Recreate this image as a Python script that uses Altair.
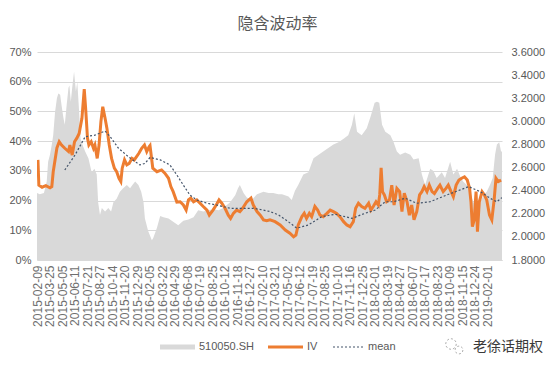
import json
import altair as alt
import pandas as pd

# x-axis category labels (one every 27 trading days)
dates = [
    "2015-02-09", "2015-03-25", "2015-05-05", "2015-06-11", "2015-07-21", "2015-08-27",
    "2015-10-14", "2015-11-20", "2015-12-29", "2016-02-05", "2016-03-22", "2016-04-29",
    "2016-06-08", "2016-07-19", "2016-08-25", "2016-10-12", "2016-11-18", "2016-12-27",
    "2017-02-10", "2017-03-21", "2017-05-02", "2017-06-12", "2017-07-19", "2017-08-25",
    "2017-10-10", "2017-11-16", "2017-12-25", "2018-02-01", "2018-03-19", "2018-04-27",
    "2018-06-07", "2018-07-17", "2018-08-23", "2018-10-09", "2018-11-15", "2018-12-24",
    "2019-02-01",
]
LABEL_STEP = 27
LAST_DAY = 1004

# IV (%), by trading-day index
iv_day = [2, 4, 11, 19, 28, 32, 35, 43, 48, 53, 60, 68, 71, 76, 81, 86, 91, 97, 102, 105,
          109, 112, 117, 122, 125, 130, 134, 138, 142, 147, 151, 156, 161, 167, 172, 177, 181, 184, 189, 194,
          199, 205, 210, 215, 220, 226, 232, 237, 242, 244, 250, 259, 269, 276, 284, 289, 294, 302, 309, 316,
          322, 327, 332, 338, 345, 352, 359, 367, 372, 380, 387, 393, 399, 406, 413, 418, 424, 431, 438, 444,
          453, 462, 467, 475, 482, 489, 496, 503, 514, 525, 536, 546, 554, 559, 564, 572, 577, 582, 588, 593,
          600, 606, 611, 618, 626, 633, 640, 647, 654, 662, 669, 676, 683, 688, 694, 701, 708, 716, 721, 726,
          732, 737, 740, 743, 746, 750, 755, 761, 766, 771, 777, 783, 788, 793, 799, 804, 809, 814, 820, 826,
          831, 836, 842, 847, 853, 858, 865, 870, 877, 883, 888, 894, 899, 905, 911, 917, 923, 929, 934, 937,
          940, 944, 948, 951, 955, 961, 966, 971, 977, 982, 987, 991, 996, 1002]
iv_val = [33.7, 25.2, 24.5, 25.0, 24.3, 24.7, 29.7, 37.7, 39.8, 38.7, 37.6, 36.5, 38.7, 35.3, 39.8, 41.0, 42.6, 47.7, 57.5, 51.0,
          41.0, 38.7, 39.8, 37.6, 38.7, 34.2, 38.7, 46.6, 51.6, 47.7, 44.3, 38.7, 34.2, 30.9, 29.7, 27.5, 26.4, 30.9, 33.7, 32.0,
          32.5, 34.2, 33.7, 34.8, 35.9, 37.6, 38.7, 36.5, 38.1, 38.5, 30.9, 29.7, 30.3, 29.2, 27.5, 24.7, 23.0, 19.5, 19.6, 18.5,
          16.8, 20.2, 20.8, 19.6, 20.2, 19.1, 18.0, 16.8, 15.1, 16.8, 18.5, 20.2, 19.1, 17.4, 15.1, 14.0, 15.7, 16.8, 16.3, 17.4,
          19.6, 20.8, 18.5, 16.3, 15.1, 13.5, 13.2, 13.5, 12.9, 11.8, 10.1, 9.0, 7.8, 8.4, 11.8, 14.6, 15.7, 14.0, 15.7, 14.6,
          18.0, 16.8, 15.1, 14.6, 15.7, 16.8, 16.3, 15.7, 14.6, 12.9, 11.8, 11.2, 12.9, 17.4, 19.1, 18.0, 17.4, 19.1, 16.8, 18.0,
          19.6, 18.5, 22.0, 31.0, 23.0, 21.9, 19.6, 20.2, 25.2, 18.5, 24.1, 23.0, 16.3, 22.5, 19.6, 15.1, 18.5, 13.5, 16.3, 21.9,
          23.0, 24.7, 23.0, 25.2, 23.0, 22.4, 24.1, 25.2, 23.0, 24.1, 25.2, 23.0, 21.3, 25.2, 26.9, 27.5, 28.0, 26.9, 24.1, 19.6,
          11.2, 13.5, 23.0, 9.5, 19.6, 23.0, 21.9, 20.2, 15.1, 13.5, 20.2, 27.5, 26.4, 26.9]

# mean of IV (%)
mean_day = [60, 82, 104, 125, 147, 158, 176, 197, 212, 222, 233, 244, 266, 287, 302, 316, 330, 345, 367, 388,
            417, 446, 467, 489, 503, 521, 540, 561, 586, 615, 644, 680, 708, 730, 752, 770, 795, 820, 849, 885,
            914, 932, 957, 978, 993, 1004]
mean_val = [30.3, 35.3, 41.5, 42.0, 43.4, 41.5, 37.6, 34.8, 33.1, 32.0, 32.5, 34.5, 33.7, 32.0, 28.6, 25.2, 21.9, 20.2, 19.1, 18.5,
            17.4, 17.4, 17.4, 16.8, 16.3, 15.2, 13.2, 10.7, 11.8, 14.6, 15.4, 14.0, 15.7, 16.8, 19.6, 19.6, 20.8, 19.1, 19.6, 21.9,
            23.6, 24.7, 23.0, 20.8, 19.6, 21.0]

# 510050.SH price (right axis)
etf_day = [0, 6, 15, 21, 24, 28, 32, 35, 39, 43, 46, 50, 53, 57, 60, 64, 68, 70, 73, 76,
           80, 84, 87, 91, 94, 98, 104, 111, 118, 124, 129, 132, 136, 140, 147, 154, 160, 165, 172, 179,
           186, 194, 201, 206, 212, 219, 225, 230, 233, 240, 248, 251, 259, 266, 273, 284, 294, 305, 316, 327,
           338, 348, 359, 370, 381, 392, 402, 417, 428, 434, 438, 446, 453, 464, 475, 489, 500, 510, 521, 529,
           543, 550, 557, 564, 575, 586, 597, 608, 618, 629, 640, 651, 662, 672, 680, 685, 691, 701, 712, 721,
           729, 734, 739, 745, 752, 763, 770, 777, 784, 795, 806, 813, 824, 831, 838, 849, 856, 863, 874, 881,
           892, 899, 907, 914, 920, 928, 935, 942, 950, 957, 964, 971, 978, 984, 989, 993, 998, 1002, 1004]
etf_val = [2.38, 2.37, 2.38, 2.48, 2.65, 2.71, 2.80, 2.88, 3.08, 3.20, 3.24, 3.23, 3.14, 3.03, 2.97, 3.14, 3.29, 3.31, 3.17, 3.29,
           3.43, 3.26, 3.34, 3.08, 2.85, 2.80, 2.74, 2.68, 2.56, 2.59, 2.54, 2.30, 2.19, 2.25, 2.22, 2.25, 2.22, 2.30, 2.33, 2.39,
           2.42, 2.45, 2.42, 2.45, 2.48, 2.45, 2.39, 2.30, 2.16, 2.05, 1.97, 1.99, 2.08, 2.18, 2.17, 2.16, 2.13, 2.10, 2.14, 2.15,
           2.17, 2.23, 2.22, 2.23, 2.24, 2.23, 2.25, 2.30, 2.36, 2.42, 2.45, 2.38, 2.34, 2.32, 2.37, 2.39, 2.38, 2.38, 2.37, 2.37,
           2.35, 2.32, 2.40, 2.45, 2.54, 2.56, 2.68, 2.71, 2.74, 2.77, 2.80, 2.82, 2.85, 2.88, 2.97, 3.07, 2.91, 2.88, 2.94, 3.05,
           3.16, 3.17, 3.16, 2.97, 2.91, 2.88, 2.82, 2.74, 2.71, 2.73, 2.71, 2.67, 2.68, 2.54, 2.45, 2.59, 2.57, 2.51, 2.56, 2.51,
           2.65, 2.54, 2.59, 2.52, 2.48, 2.45, 2.39, 2.30, 2.28, 2.30, 2.36, 2.39, 2.45, 2.51, 2.71, 2.80, 2.82, 2.74, 2.74]

pct_ticks = [0, 10, 20, 30, 40, 50, 60, 70]
price_ticks = [1.8, 2.0, 2.2, 2.4, 2.6, 2.8, 3.0, 3.2, 3.4, 3.6]
legend_names = ["510050.SH", "IV", "mean"]
title_text = "隐含波动率"
watermark_text = "老徐话期权"

GRAY = "#D9D9D9"
ORANGE = "#ED7D31"
MEAN_COLOR = "#44546A"
TEXT = "#595959"
FONT = "Liberation Sans"

iv_df = pd.DataFrame({"day": iv_day, "iv": iv_val})
mean_df = pd.DataFrame({"day": mean_day, "mean": mean_val})
etf_df = pd.DataFrame({"day": etf_day, "price": etf_val})
legend_df = pd.DataFrame({"name": legend_names})
wm_df = pd.DataFrame({"name": [watermark_text]})

x_scale = alt.Scale(domain=[0, LAST_DAY], nice=False, zero=False)
label_expr = json.dumps(dates) + "[round(datum.value / %d)]" % LABEL_STEP
x_axis = alt.Axis(
    values=[LABEL_STEP * k for k in range(len(dates))], labelExpr=label_expr,
    labelAngle=-90, labelOverlap=False, grid=False, ticks=False,
    domainColor=GRAY, labelColor="#6f6f6f", labelFontSize=12, labelFont=FONT,
    labelPadding=5, title=None,
)
x_enc = alt.X("day:Q", scale=x_scale, axis=x_axis)
pct_scale = alt.Scale(domain=[0, 70], nice=False, zero=True)

area = alt.Chart(etf_df).mark_area(color=GRAY, clip=True).encode(
    x=x_enc,
    y=alt.Y("price:Q", scale=alt.Scale(domain=[1.8, 3.6], nice=False, zero=False),
            axis=alt.Axis(orient="right", values=price_ticks, format=".4f", grid=False,
                          ticks=False, domain=False, title=None, labelPadding=9,
                          labelColor=TEXT, labelFontSize=11, labelFont=FONT)),
    y2=alt.datum(1.8),
)

iv_line = alt.Chart(iv_df).mark_line(color=ORANGE, strokeWidth=3, clip=True).encode(
    x=x_enc,
    y=alt.Y("iv:Q", scale=pct_scale,
            axis=alt.Axis(orient="left", values=pct_ticks, labelExpr="datum.value + '%'",
                          grid=True, gridColor=GRAY, ticks=False, domain=False, title=None,
                          labelPadding=6, labelColor=TEXT, labelFontSize=11, labelFont=FONT)),
)

mean_line = alt.Chart(mean_df).mark_line(color=MEAN_COLOR, strokeWidth=1.2, strokeDash=[2, 2], clip=True).encode(
    x=x_enc,
    y=alt.Y("mean:Q", scale=pct_scale, axis=None),
)

# manual legend below the axis labels
LY = 295
leg_area = alt.Chart(legend_df).transform_filter(alt.datum.name == legend_names[0]).mark_rect(color=GRAY).encode(
    x=alt.value(123), x2=alt.value(158), y=alt.value(LY - 2.5), y2=alt.value(LY + 2.5))
leg_iv = alt.Chart(legend_df).transform_filter(alt.datum.name == legend_names[1]).mark_rule(color=ORANGE, strokeWidth=3).encode(
    x=alt.value(231), x2=alt.value(266), y=alt.value(LY))
leg_mean = alt.Chart(legend_df).transform_filter(alt.datum.name == legend_names[2]).mark_rule(
    color=MEAN_COLOR, strokeWidth=1.2, strokeDash=[2, 2]).encode(
    x=alt.value(296), x2=alt.value(326), y=alt.value(LY))

def leg_text(name, xpos):
    return alt.Chart(legend_df).transform_filter(alt.datum.name == name).mark_text(
        align="left", baseline="middle", fontSize=11, font=FONT, color=TEXT).encode(
        x=alt.value(xpos), y=alt.value(LY), text="name:N")

wm_icon1 = alt.Chart(wm_df).mark_point(shape="circle", size=110, filled=False, color="#8c8c8c",
                                       strokeWidth=1, strokeDash=[2, 2]).encode(x=alt.value(414), y=alt.value(292))
wm_icon2 = alt.Chart(wm_df).mark_point(shape="circle", size=60, filled=False, color="#8c8c8c",
                                       strokeWidth=1, strokeDash=[2, 2]).encode(x=alt.value(422), y=alt.value(298))
wm_text = alt.Chart(wm_df).mark_text(align="left", baseline="middle", fontSize=14,
                                      font="Noto Sans CJK SC", color="#3a3a3a").encode(
    x=alt.value(436), y=alt.value(LY), text="name:N")

chart = alt.layer(
    area, iv_line, mean_line,
    leg_area, leg_iv, leg_mean,
    leg_text(legend_names[0], 162), leg_text(legend_names[1], 270), leg_text(legend_names[2], 331),
    wm_icon1, wm_icon2, wm_text,
).resolve_scale(y="independent").properties(
    width=465, height=208,
    title=alt.TitleParams(title_text, font="Noto Sans CJK SC", fontSize=16, fontWeight="normal",
                          color=TEXT, anchor="middle", offset=14, dx=8),
    padding={"left": 29, "top": 44, "right": 45, "bottom": 95},
    autosize=alt.AutoSizeParams(type="none"),
).configure_view(stroke=None)

chart.save("out.html", embed_options={"renderer": "svg", "actions": False})
